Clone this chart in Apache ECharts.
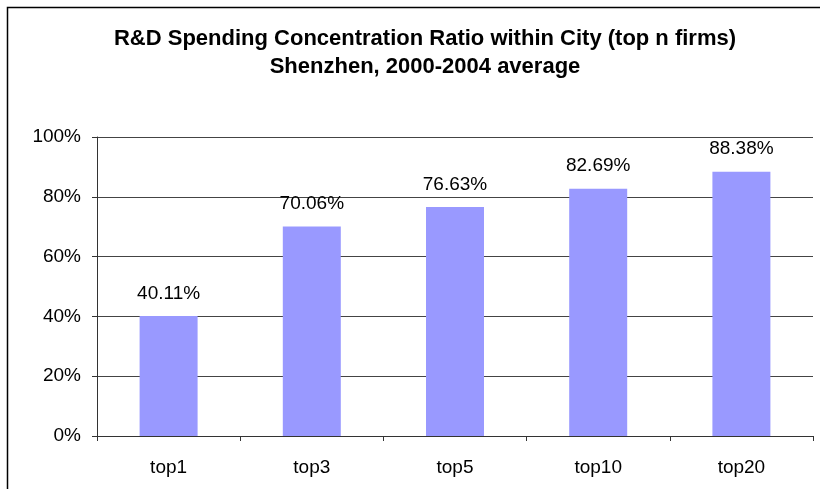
<!DOCTYPE html>
<html>
<head>
<meta charset="utf-8">
<script src="https://cdn.jsdelivr.net/npm/echarts@6/dist/echarts.min.js"></script>
<style>
  html, body { margin: 0; padding: 0; background: #fff; }
  #chart { width: 820px; height: 489px; }
</style>
</head>
<body>
<div id="chart"></div>
<script>
// data
const categories = ['top1', 'top3', 'top5', 'top10', 'top20'];
const ratios = [40.11, 70.06, 76.63, 82.69, 88.38];
const yTicks = [0, 20, 40, 60, 80, 100];

const font = 'Arial, "Liberation Sans", sans-serif';
const myChart = echarts.init(document.getElementById('chart'));

const option = {
  backgroundColor: '#fff',
  animation: false,
  textStyle: { fontFamily: font, color: '#000' },
  title: {
    text: 'R&D Spending Concentration Ratio within City (top n firms)\nShenzhen, 2000-2004 average',
    left: 420,
    top: 20,
    textAlign: 'center',
    textStyle: { fontFamily: font, fontSize: 22, fontWeight: 'bold', color: '#000', lineHeight: 28 }
  },
  graphic: [{
    type: 'rect',
    shape: { x: 7.5, y: 7.5, width: 830, height: 500 },
    style: { fill: 'none', stroke: '#000', lineWidth: 1.5 },
    silent: true
  }],
  grid: { left: 97, right: 7, top: 137, bottom: 53 },
  xAxis: {
    type: 'category',
    data: categories,
    axisLine: { lineStyle: { color: '#333' } },
    axisTick: { show: true, length: 5, lineStyle: { color: '#333' } },
    axisLabel: { fontSize: 19, color: '#000', margin: 22, fontFamily: font }
  },
  yAxis: {
    type: 'value',
    min: yTicks[0],
    max: yTicks[yTicks.length - 1],
    interval: 20,
    axisLine: { show: true, lineStyle: { color: '#333' } },
    axisTick: { show: true, length: 5, lineStyle: { color: '#333' } },
    splitLine: { lineStyle: { color: '#444', width: 1 } },
    axisLabel: { fontSize: 19, color: '#000', margin: 16, fontFamily: font, formatter: '{value}%' }
  },
  series: [{
    type: 'bar',
    data: ratios,
    barWidth: '40.5%',
    itemStyle: { color: '#9999FF' },
    label: {
      show: true,
      position: 'top',
      distance: 13,
      fontSize: 19,
      color: '#000',
      fontFamily: font,
      formatter: p => p.value.toFixed(2) + '%'
    }
  }]
};
option && myChart.setOption(option);
</script>
</body>
</html>
